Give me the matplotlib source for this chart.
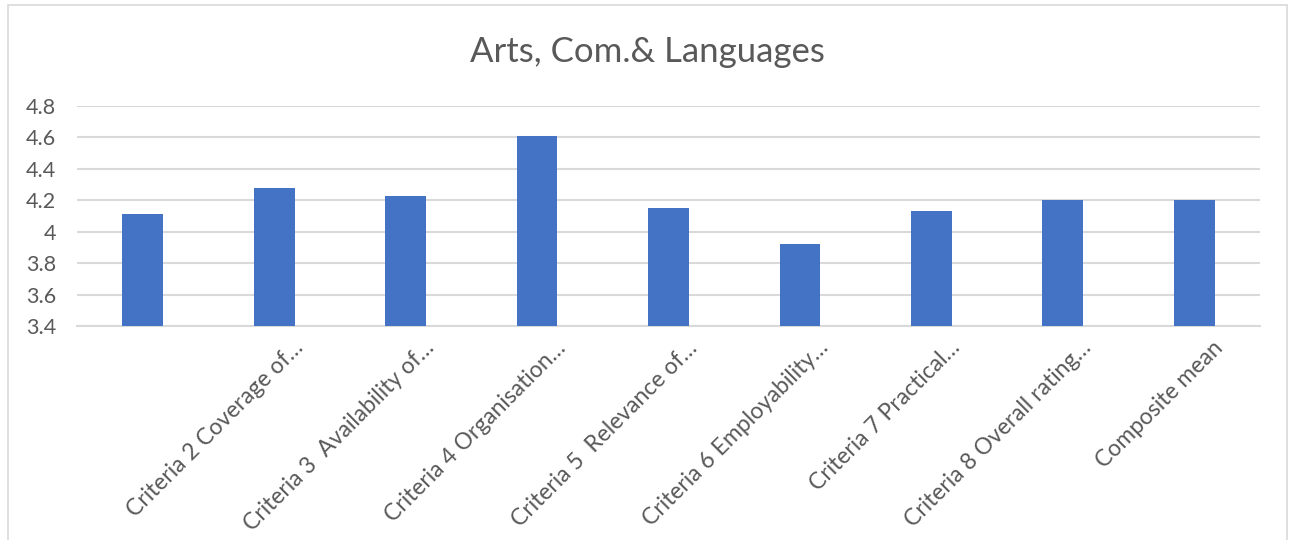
import matplotlib.pyplot as plt
import matplotlib
import matplotlib.transforms as mtransforms
from matplotlib.patches import Rectangle

matplotlib.rcParams['font.family'] = ['Lato', 'DejaVu Sans']

title = "Arts, Com.& Languages"
categories = [
    "",
    "Criteria 2 Coverage of…",
    "Criteria 3  Availability of…",
    "Criteria 4 Organisation…",
    "Criteria 5  Relevance of…",
    "Criteria 6 Employability…",
    "Criteria 7 Practical…",
    "Criteria 8 Overall rating…",
    "Composite mean",
]
values = [4.11, 4.28, 4.23, 4.61, 4.15, 3.92, 4.13, 4.20, 4.20]
yticks = [3.4, 3.6, 3.8, 4.0, 4.2, 4.4, 4.6, 4.8]
ytick_labels = ["3.4", "3.6", "3.8", "4", "4.2", "4.4", "4.6", "4.8"]

bar_color = "#4472C4"
text_color = "#595959"
grid_color = "#D9D9D9"

fig = plt.figure(figsize=(12.95, 5.40), dpi=100)
ax = fig.add_axes([0.0595, 0.3963, 0.9135, 0.4074])

x = list(range(len(categories)))
ax.bar(x, values, width=0.31, color=bar_color, zorder=3)
ax.set_xlim(-0.5, len(categories) - 0.5)
ax.set_ylim(3.4, 4.8)

ax.set_yticks(yticks)
ax.set_yticklabels(ytick_labels, fontsize=15.5, color=text_color)
ax.set_xticks(x)
ax.set_xticklabels(categories, rotation=45, ha="right", rotation_mode="anchor",
                   fontsize=16.5, color=text_color)
ax.tick_params(axis="both", length=0)
ax.tick_params(axis="y", pad=15)
ax.tick_params(axis="x", pad=8)

# shift category labels a bit to the right, like the original
shift = mtransforms.ScaledTranslation(0.18, 0, fig.dpi_scale_trans)
for lbl in ax.get_xticklabels():
    lbl.set_transform(lbl.get_transform() + shift)

ax.grid(axis="y", color=grid_color, linewidth=1.5, zorder=0)
for s in ["top", "right", "left"]:
    ax.spines[s].set_visible(False)
ax.spines["bottom"].set_color(grid_color)
ax.spines["bottom"].set_linewidth(1.5)

fig.text(0.5, 0.904, title, ha="center", va="center", fontsize=25, color=text_color)

# chart border
fig.patches.append(Rectangle((0.006, -0.01), 0.988, 1.0, transform=fig.transFigure,
                             fill=False, edgecolor="#D9D9D9", linewidth=1.2))

fig.savefig("out.png", dpi=100)
